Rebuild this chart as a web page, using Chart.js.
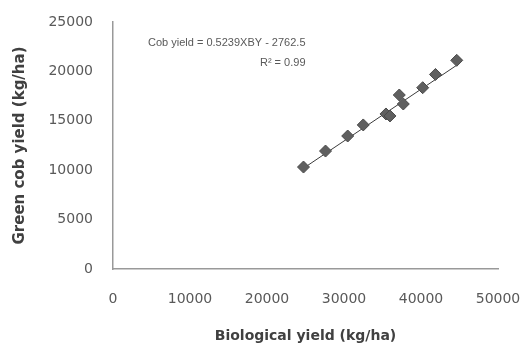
<!DOCTYPE html>
<html>
<head>
<meta charset="utf-8">
<script src="https://cdn.jsdelivr.net/npm/chart.js@4"></script>
<style>
  html, body { margin: 0; padding: 0; background: #fff; }
  #wrap { width: 525px; height: 345px; position: relative; }
</style>
</head>
<body>
<div id="wrap"><canvas id="c" width="525" height="345"></canvas></div>
<script>
// Data
const biologicalYield = [24740, 27600, 30480, 32500, 35450, 35970, 37180, 37700, 40220, 41880, 44640];
const greenCobYield  = [10320, 11940, 13460, 14580, 15690, 15490, 17610, 16700, 18350, 19690, 21120];
const xTickLabels = ["0", "10000", "20000", "30000", "40000", "50000"];
const yTickLabels = ["0", "5000", "10000", "15000", "20000", "25000"];
const trendSlope = 0.5239;
const trendIntercept = -2762.5;
const equationText = "Cob yield = 0.5239XBY - 2762.5";
const r2Label = "R² = 0.99";
const xTitle = "Biological yield (kg/ha)";
const yTitle = "Green cob yield (kg/ha)";

const points = biologicalYield.map((x, i) => ({ x: x, y: greenCobYield[i] }));
const xMinData = Math.min(...biologicalYield);
const xMaxData = Math.max(...biologicalYield);
const trend = [xMinData, xMaxData].map(x => ({ x: x, y: trendSlope * x + trendIntercept }));

const equationPlugin = {
  id: 'equation',
  afterDatasetsDraw(chart) {
    const ctx = chart.ctx;
    const xs = chart.scales.x, ys = chart.scales.y;
    ctx.save();
    ctx.fillStyle = '#595959';
    ctx.font = '11px "Liberation Sans", sans-serif';
    ctx.textAlign = 'right';
    ctx.textBaseline = 'middle';
    const rx = xs.getPixelForValue(25000);
    ctx.fillText(equationText, rx, ys.getPixelForValue(22900));
    ctx.fillText(r2Label, rx, ys.getPixelForValue(20900));
    ctx.restore();
  }
};

new Chart(document.getElementById('c'), {
  type: 'scatter',
  data: {
    datasets: [
      {
        label: 'Green cob yield',
        data: points,
        pointStyle: 'rectRot',
        pointRadius: 6,
        pointHoverRadius: 6,
        backgroundColor: '#5f5f5f',
        borderColor: '#4a4a4a',
        borderWidth: 1,
        order: 1
      },
      {
        label: 'Linear trend',
        type: 'line',
        data: trend,
        borderColor: '#3c3c3c',
        borderWidth: 1,
        pointRadius: 0,
        fill: false,
        order: 2
      }
    ]
  },
  options: {
    responsive: false,
    animation: false,
    events: [],
    layout: { padding: { left: 0, right: 27, top: 22, bottom: 0 } },
    plugins: { legend: { display: false }, tooltip: { enabled: false } },
    scales: {
      x: {
        type: 'linear',
        min: 0, max: 50000,
        afterBuildTicks(scale) { scale.ticks = xTickLabels.map(v => ({ value: Number(v) })); },
        afterFit(scale) { scale.height = 76; scale.paddingLeft = 0; scale.paddingRight = 0; },
        grid: { display: false, drawTicks: false },
        border: { display: true, color: '#999999', width: 1.5 },
        ticks: {
          padding: 22,
          color: '#595959',
          font: { family: '"DejaVu Sans", sans-serif', size: 14 },
          maxRotation: 0,
          callback: (v) => xTickLabels[xTickLabels.indexOf(String(v))]
        },
        title: {
          display: true,
          text: xTitle,
          color: '#404040',
          font: { family: '"DejaVu Sans", sans-serif', size: 14, weight: 'bold' },
          padding: { top: 0, bottom: 0 }
        }
      },
      y: {
        type: 'linear',
        min: 0, max: 25000,
        afterBuildTicks(scale) { scale.ticks = yTickLabels.map(v => ({ value: Number(v) })); },
        afterFit(scale) { scale.width = 113; scale.paddingTop = 0; scale.paddingBottom = 0; },
        grid: { display: false, drawTicks: false },
        border: { display: true, color: '#999999', width: 1.5 },
        ticks: {
          padding: 20,
          color: '#595959',
          font: { family: '"DejaVu Sans", sans-serif', size: 14 },
          callback: (v) => yTickLabels[yTickLabels.indexOf(String(v))]
        },
        title: {
          display: true,
          text: yTitle,
          color: '#404040',
          font: { family: '"DejaVu Sans", sans-serif', size: 15, weight: 'bold' },
          padding: { top: 11, bottom: 0 }
        }
      }
    }
  },
  plugins: [equationPlugin]
});
</script>
</body>
</html>
